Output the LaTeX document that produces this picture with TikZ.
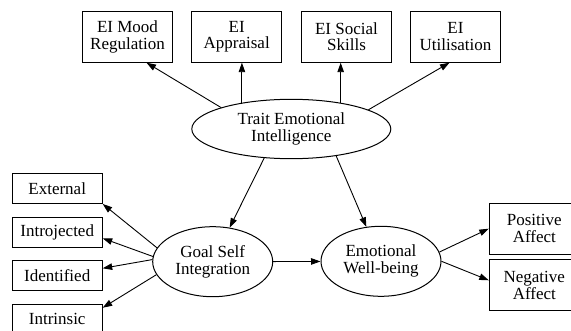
\documentclass[tikz,border=0pt]{standalone}
\usepackage{fontspec}
\setmainfont{Liberation Serif}
\usepackage{tikz}
\usetikzlibrary{shapes.geometric, arrows.meta, calc}

\begin{document}
\begin{tikzpicture}[x=1pt, y=1pt,
    box/.style={rectangle, draw=black, line width=1pt, fill=white,
                minimum width=90pt, minimum height=51pt, inner sep=1pt,
                align=center, font=\fontsize{17}{16.5}\selectfont},
    flat/.style={box, minimum height=29.5pt},
    latent/.style={ellipse, draw=black, line width=1pt,
                   inner sep=1pt, align=center,
                   font=\fontsize{17}{17}\selectfont},
    arrow/.style={-{Triangle[length=9.5pt, width=6.5pt]}, line width=0.9pt}
]
\useasboundingbox (0,0) rectangle (571,330);

\node[box] (mood)      at (127.5,293.3) {EI Mood\\Regulation};
\node[box] (appraisal) at (236.7,293.3) {EI\\Appraisal};
\node[box] (social)    at (346.5,293.3) {EI Social\\Skills};
\node[box] (utilis)    at (455.5,293.3) {EI\\Utilisation};

\node[latent, minimum width=199pt, minimum height=59.4pt] (trait) at (291.3,201)
    {Trait Emotional\\Intelligence};

\node[flat] (external)  at (57.2,141.3) {External};
\node[flat] (introj)    at (57.2,97.7)  {Introjected};
\node[flat] (ident)     at (57.2,54.7)  {Identified};
\node[flat] (intrinsic) at (57.2,11)    {Intrinsic};

\node[latent, minimum width=120pt, minimum height=70pt] (goal) at (212.7,68.3)
    {Goal Self\\Integration};
\node[latent, minimum width=120pt, minimum height=70pt] (emot) at (381,68.7)
    {Emotional\\Well-being};

\node[box] (positive) at (534.3,101.3) {Positive\\Affect};
\node[box] (negative) at (534.3,44.7)  {Negative\\Affect};

\draw[arrow] (trait.163) -- ($(mood.south)+(19,0)$);
\draw[arrow] (trait.152) -- (trait.152 |- appraisal.south);
\draw[arrow] (trait.28)  -- (trait.28 |- social.south);
\draw[arrow] (trait.14)  -- ($(utilis.south)+(-6,0)$);

\draw[arrow] (trait.227) -- (goal);
\draw[arrow] (trait.329) -- (emot);

\draw[arrow] (goal.166) -- (external.south east);
\draw[arrow] (goal.175) -- ($(introj.east)+(0,-6)$);
\draw[arrow] (goal.178) -- ($(ident.east)+(0,7)$);
\draw[arrow] (goal.193) -- ($(intrinsic.north east)+(0,-4)$);

\draw[arrow] (goal) -- (emot);

\draw[arrow] (emot.9) -- (positive.west);
\draw[arrow] (emot.0) -- ($(negative.west)+(0,5)$);
\end{tikzpicture}
\end{document}
